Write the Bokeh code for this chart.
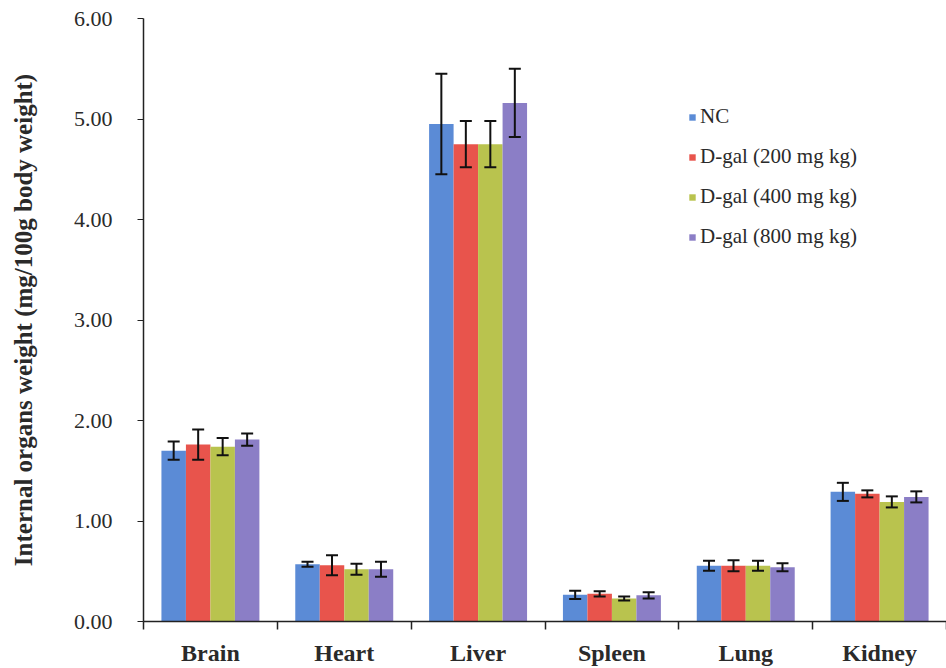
import numpy as np
from bokeh.plotting import figure
from bokeh.models import (ColumnDataSource, Range1d, FixedTicker, Whisker, TeeHead,
                          Legend, LegendItem, NumeralTickFormatter)
from bokeh.embed import file_html
from bokeh.resources import INLINE

categories = ["Brain", "Heart", "Liver", "Spleen", "Lung", "Kidney"]
series_names = ["NC", "D-gal (200 mg kg)", "D-gal (400 mg kg)", "D-gal (800 mg kg)"]
colors = ["#5b8bd6", "#e8544c", "#b9c34e", "#8b7ec6"]

nc_mean = [1.70, 0.57, 4.95, 0.265, 0.555, 1.29]
nc_err = [0.09, 0.025, 0.50, 0.04, 0.05, 0.09]
d200_mean = [1.76, 0.56, 4.75, 0.275, 0.555, 1.27]
d200_err = [0.15, 0.10, 0.23, 0.025, 0.055, 0.035]
d400_mean = [1.74, 0.52, 4.75, 0.23, 0.555, 1.19]
d400_err = [0.085, 0.055, 0.23, 0.02, 0.05, 0.055]
d800_mean = [1.81, 0.52, 5.16, 0.26, 0.54, 1.24]
d800_err = [0.06, 0.075, 0.34, 0.03, 0.04, 0.055]

means = [nc_mean, d200_mean, d400_mean, d800_mean]
errs = [nc_err, d200_err, d400_err, d800_err]

FONT = "Liberation Serif"

p = figure(width=946, height=668, output_backend="svg", toolbar_location=None,
           x_range=Range1d(0, 6), y_range=Range1d(0, 6),
           min_border_left=143, min_border_right=0, min_border_top=18, min_border_bottom=47)
p.outline_line_color = None
p.grid.grid_line_color = None
p.background_fill_color = "white"

bw = 0.183
centers = np.arange(len(categories)) + 0.5
renderers = []
for i, (m, e, c) in enumerate(zip(means, errs, colors)):
    x = centers + (i - 1.5) * bw
    m = np.array(m)
    e = np.array(e)
    src = ColumnDataSource(dict(x=x, top=m, upper=m + e, lower=m - e))
    r = p.vbar(x="x", top="top", width=bw, source=src, fill_color=c, line_color=None)
    renderers.append(r)
    w = Whisker(source=src, base="x", upper="upper", lower="lower", dimension="height",
                line_color="#111111", line_width=2, level="overlay",
                upper_head=TeeHead(size=12, line_color="#111111", line_width=2),
                lower_head=TeeHead(size=12, line_color="#111111", line_width=2))
    p.add_layout(w)

# x axis
xa = p.xaxis[0]
xa.ticker = FixedTicker(ticks=list(centers), minor_ticks=list(range(0, 7)))
xa.major_label_overrides = {float(c): n for c, n in zip(centers, categories)}
xa.major_tick_line_color = None
xa.minor_tick_in = 0
xa.minor_tick_out = 8
xa.minor_tick_line_color = "#222222"
xa.minor_tick_line_width = 1.5
xa.axis_line_color = "#222222"
xa.axis_line_width = 1.5
xa.major_label_text_font = FONT
xa.major_label_text_font_style = "bold"
xa.major_label_text_font_size = "24px"
xa.major_label_text_color = "#2a2a2a"
xa.major_label_standoff = 10

# y axis
ya = p.yaxis[0]
ya.ticker = FixedTicker(ticks=[0, 1, 2, 3, 4, 5, 6], minor_ticks=[])
ya.formatter = NumeralTickFormatter(format="0.00")
ya.major_tick_in = 0
ya.major_tick_out = 6
ya.major_tick_line_color = "#222222"
ya.axis_line_color = "#222222"
ya.axis_line_width = 1.5
ya.major_label_text_font = FONT
ya.major_label_text_font_size = "22px"
ya.major_label_text_color = "#2a2a2a"
ya.major_label_standoff = 25
ya.axis_label = "Internal organs weight (mg/100g body weight)"
ya.axis_label_text_font = FONT
ya.axis_label_text_font_style = "bold"
ya.axis_label_text_font_size = "25px"
ya.axis_label_text_color = "#2a2a2a"
ya.axis_label_standoff = 34

legend = Legend(items=[LegendItem(label=n, renderers=[r]) for n, r in zip(series_names, renderers)],
                location=(545, 372), orientation="vertical",
                glyph_width=8, glyph_height=8, label_height=22, spacing=15,
                padding=0, margin=0, label_standoff=4,
                border_line_color=None, background_fill_alpha=0,
                label_text_font=FONT, label_text_font_size="21px", label_text_color="#2a2a2a")
p.add_layout(legend, "center")

open("out.html", "w").write(file_html(p, INLINE))
